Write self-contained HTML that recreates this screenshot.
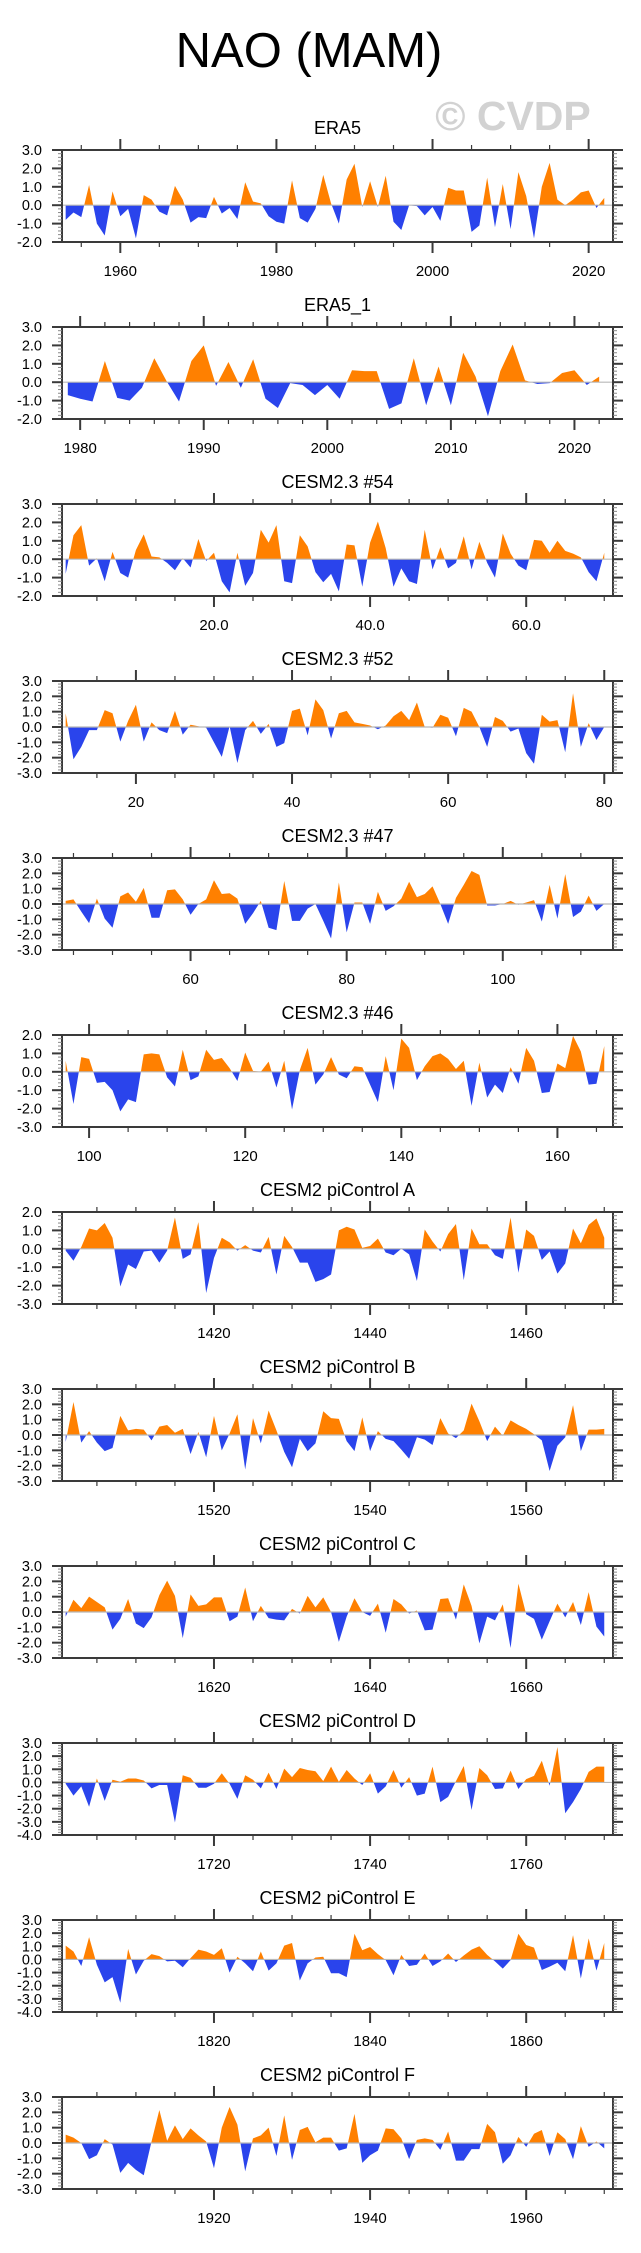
<!DOCTYPE html>
<html><head><meta charset="utf-8"><style>
html,body{margin:0;padding:0;background:#fff}
svg{display:block}
text{font-family:"Liberation Sans",Arial,sans-serif}
</style></head><body>
<svg id="fig" width="641" height="2253" viewBox="0 0 641 2253" xmlns="http://www.w3.org/2000/svg">
<text x="309" y="67" font-size="49" text-anchor="middle" fill="#000">NAO (MAM)</text>
<text x="513" y="130" font-size="41" font-weight="bold" text-anchor="middle" fill="#d2d2d2">© CVDP</text>
<g id="panels"></g>
</svg>
<script>
const titles = ["ERA5","ERA5_1","CESM2.3 #54","CESM2.3 #52","CESM2.3 #47","CESM2.3 #46","CESM2 piControl A","CESM2 piControl B","CESM2 piControl C","CESM2 piControl D","CESM2 piControl E","CESM2 piControl F"];
const startYears = [1953,1979,1,11,44,97,1401,1501,1601,1701,1801,1901];
const yMins = [-2,-2,-2,-3,-3,-3,-3,-3,-3,-4,-4,-3];
const yMaxs = [3,3,3,3,3,2,2,3,3,3,3,3];
const majorSteps = [20,10,20,20,20,20,20,20,20,20,20,20];
const minorSteps = [5,2,5,5,5,5,5,5,5,5,5,5];
const labelDecimals = [0,0,1,0,0,0,0,0,0,0,0,0];

const era5 = [-0.8,-0.4,-0.65,1.1,-1.0,-1.65,0.75,-0.6,-0.2,-1.8,0.55,0.3,-0.35,-0.55,1.05,0.3,-0.95,-0.65,-0.7,0.45,-0.45,-0.15,-0.75,1.25,0.2,0.1,-0.6,-0.9,-1.0,1.35,-0.7,-0.95,-0.2,1.65,0.1,-1.0,1.4,2.25,-0.1,1.3,-0.1,1.6,-0.9,-1.35,0.0,-0.05,-0.55,-0.1,-0.85,0.95,0.8,0.8,-1.45,-1.1,1.5,-1.2,1.15,-1.3,1.8,0.5,-1.8,1.0,2.3,0.3,0.0,0.3,0.7,0.8,-0.15,0.4];
const era5b = [-0.7,-0.9,-1.05,1.15,-0.85,-1.0,-0.3,1.3,0.05,-1.05,1.15,2.0,-0.2,1.1,-0.3,1.25,-0.9,-1.4,-0.05,-0.15,-0.7,-0.15,-0.9,0.65,0.6,0.6,-1.45,-1.15,1.3,-1.25,0.85,-1.25,1.6,0.3,-1.85,0.6,2.05,0.1,-0.1,-0.05,0.5,0.65,-0.15,0.3];
const cesm54 = [-0.8,1.3,1.85,-0.35,0.05,-1.2,0.4,-0.75,-1.0,0.5,1.35,0.15,0.1,-0.2,-0.6,0.05,-0.45,1.1,-0.1,0.35,-1.2,-1.8,0.35,-1.45,-0.75,1.6,0.9,1.85,-1.2,-1.3,1.3,0.7,-0.7,-1.25,-0.8,-1.75,0.8,0.75,-1.5,0.9,2.05,0.6,-1.5,-0.5,-1.2,-1.35,1.6,-0.55,0.65,-0.5,-0.2,1.25,-0.55,0.95,-0.2,-1.0,1.4,0.3,-0.35,-0.6,1.05,1.0,0.35,1.0,0.45,0.3,0.1,-0.7,-1.2,0.35];
const cesm52 = [0.9,-2.1,-1.3,-0.2,-0.2,1.1,0.9,-0.95,0.4,1.45,-0.95,0.3,-0.2,-0.4,1.05,-0.5,0.15,0.05,-0.05,-1.0,-1.95,0.05,-2.35,-0.2,0.4,-0.45,0.2,-1.3,-1.05,1.05,1.2,-0.55,1.8,1.1,-0.75,0.9,1.05,0.3,0.2,0.1,-0.15,0.1,0.7,1.05,0.45,1.6,0.0,-0.05,0.8,0.6,-0.6,1.25,1.0,0.0,-1.3,0.65,0.4,-0.3,-0.1,-1.7,-2.4,0.8,0.35,0.45,-1.65,2.2,-1.3,0.25,-0.85,0.0];
const cesm47 = [0.2,0.3,-0.5,-1.25,0.35,-0.95,-1.55,0.5,0.75,0.15,1.05,-0.9,-0.9,0.9,0.95,0.3,-0.7,0.0,0.3,1.55,0.65,0.7,0.35,-1.3,-0.6,0.2,-1.55,-1.7,1.5,-1.1,-1.1,-0.3,0.0,-1.1,-2.25,1.4,-1.85,0.1,0.1,-1.3,0.8,-0.45,-0.15,0.35,1.45,0.45,0.65,1.15,0.0,-1.3,0.4,1.25,2.15,1.9,-0.1,-0.1,0.0,0.2,-0.05,0.1,0.25,-1.15,1.25,-0.95,1.95,-0.85,-0.5,0.55,-0.45,0.0];
const cesm46 = [0.6,-1.75,0.8,0.7,-0.6,-0.55,-1.0,-2.15,-1.5,-1.65,0.95,1.0,0.95,-0.3,-0.8,1.2,-0.45,-0.25,1.2,0.65,0.75,0.2,-0.5,1.05,0.05,0.0,0.55,-0.85,0.6,-2.05,0.1,1.3,-0.7,-0.15,0.8,-0.15,-0.35,0.3,0.25,-0.7,-1.65,0.85,-1.0,1.8,1.3,-0.45,0.3,0.85,1.0,0.7,0.15,0.6,-1.85,0.5,-1.4,-0.7,-1.15,0.25,-0.65,1.3,0.6,-1.15,-1.1,0.45,0.2,1.95,1.1,-0.7,-0.65,1.4];
const pictlA = [-0.1,-0.65,0.1,1.1,1.0,1.4,0.6,-2.05,-0.85,-1.1,-0.15,-0.1,-0.75,-0.1,1.7,-0.55,-0.3,1.45,-2.4,-0.5,0.6,0.35,-0.1,0.2,-0.1,-0.2,0.65,-1.4,0.7,0.1,-0.75,-0.75,-1.8,-1.65,-1.4,1.0,1.2,1.05,0.05,0.15,0.55,-0.2,-0.35,0.0,-0.3,-1.75,1.05,0.4,-0.15,0.8,1.35,-1.7,1.1,0.25,0.25,-0.35,-0.55,1.7,-1.3,1.05,0.7,-0.6,-0.15,-1.35,-0.8,1.1,0.3,1.3,1.65,0.6];
const pictlB = [-0.45,2.15,-0.5,0.25,-0.5,-1.05,-0.85,1.25,0.3,0.4,0.35,-0.35,0.55,0.65,0.15,0.4,-1.25,0.2,-1.45,1.25,-1.0,0.1,1.35,-2.25,1.1,-0.55,1.6,0.3,-1.1,-2.1,-0.25,-1.05,-0.55,1.55,1.1,1.05,-0.4,-1.05,1.15,-1.05,0.25,-0.25,-0.4,-0.95,-1.55,-0.15,-0.3,-0.65,1.1,0.1,-0.2,0.3,2.05,0.9,-0.4,0.55,-0.05,0.95,0.65,0.4,0.05,-0.35,-2.35,-0.7,-0.15,1.95,-1.05,0.35,0.35,0.4];
const pictlC = [-0.3,0.8,0.25,1.0,0.65,0.3,-1.15,-0.45,0.85,-0.75,-1.05,-0.35,1.1,2.05,1.05,-1.7,1.15,0.4,0.5,0.95,0.95,-0.6,-0.3,1.6,-0.6,0.4,-0.4,-0.5,-0.55,0.2,-0.1,1.05,0.3,0.95,0.0,-1.95,-0.3,0.9,0.0,-0.25,0.55,-1.35,0.85,0.5,-0.1,0.1,-1.2,-1.15,0.85,0.9,-0.5,1.8,0.4,-2.05,-0.3,-0.55,0.5,-2.35,1.85,-0.15,-0.45,-1.8,-0.6,0.55,-0.35,0.65,-0.85,1.3,-0.95,-1.6];
const pictlD = [-0.1,-1.0,-0.3,-1.85,0.3,-1.4,0.2,0.05,0.3,0.3,0.15,-0.45,-0.2,-0.2,-3.05,0.55,0.35,-0.4,-0.4,-0.1,0.7,-0.1,-1.25,0.55,0.2,-0.45,0.75,-0.5,1.05,0.4,1.1,0.95,0.85,0.1,1.2,0.05,0.95,0.3,-0.2,0.7,-0.85,-0.3,0.95,-0.4,0.4,-1.0,-0.85,1.2,-1.5,-1.1,0.1,1.25,-2.1,1.1,0.55,-0.5,-0.45,0.9,-0.5,0.25,0.5,1.65,-0.25,2.7,-2.35,-1.5,-0.5,0.8,1.2,1.2];
const pictlE = [1.05,0.6,-0.5,1.7,-0.4,-1.75,-1.35,-3.3,0.8,-1.15,-0.1,0.4,0.25,-0.15,-0.1,-0.6,0.1,0.75,0.6,0.35,0.85,-1.0,0.2,-0.3,-0.9,0.6,-0.85,-0.3,1.05,1.25,-1.6,-0.3,0.15,0.2,-1.05,-1.05,-1.35,1.95,0.7,0.95,0.4,-0.05,-1.2,0.35,-0.5,-0.4,0.45,-0.5,-0.15,0.45,-0.2,0.3,0.75,1.0,0.35,-0.15,-0.7,-0.05,1.95,1.1,0.9,-0.8,-0.55,-0.25,-0.9,1.85,-1.45,1.6,-0.85,1.25];
const pictlF = [0.55,0.35,0.0,-1.05,-0.8,0.25,-0.1,-1.95,-1.3,-1.75,-2.1,0.1,2.15,0.15,1.15,0.25,0.95,0.5,0.1,-1.65,1.0,2.35,1.2,-1.85,0.3,0.5,1.0,-0.85,1.8,-1.1,0.85,1.05,0.05,0.35,0.35,-0.5,-0.35,1.9,-1.3,-0.8,-0.5,0.95,0.9,0.3,-1.05,0.2,0.3,0.2,-0.45,0.75,-1.15,-1.15,-0.4,-0.4,1.25,0.7,-1.35,-0.8,0.4,-0.25,0.6,0.85,-0.85,0.7,0.25,-1.05,1.1,-0.25,0.1,-0.35];
const seriesList = [era5,era5b,cesm54,cesm52,cesm47,cesm46,pictlA,pictlB,pictlC,pictlD,pictlE,pictlF];

const NS = "http://www.w3.org/2000/svg";
const root = document.getElementById("panels");
const L = 62, R = 613, H = 92, FIRST_TOP = 150, GAP = 177;
function mk(tag, attrs, parent){ const e = document.createElementNS(NS, tag); for (const k in attrs) e.setAttribute(k, attrs[k]); parent.appendChild(e); return e; }

seriesList.forEach((vals, p) => {
  const top = FIRST_TOP + p * GAP, bot = top + H;
  const x0 = startYears[p], x1 = x0 + vals.length - 1;
  const xmin = x0 - 0.47, xmax = x1 + 1.12;
  const ymin = yMins[p], ymax = yMaxs[p];
  const sx = v => L + (v - xmin) / (xmax - xmin) * (R - L);
  const sy = v => bot - (v - ymin) / (ymax - ymin) * H;
  const g = mk("g", {}, root);
  
  

  const t = mk("text", {x: (L + R) / 2, y: top - 16, "font-size": 18, "text-anchor": "middle", fill: "#000"}, g);
  t.textContent = titles[p];
  
  

  // area
  const y0 = sy(0);
  let d = "M" + sx(x0) + "," + y0;
  vals.forEach((v, i) => { d += " L" + sx(x0 + i).toFixed(2) + "," + sy(v).toFixed(2); });
  d += " L" + sx(x1) + "," + y0 + " Z";
  const cidA = "ca" + p, cidB = "cb" + p;
  const defs = mk("defs", {}, g);
  const ca = mk("clipPath", {id: cidA}, defs); mk("rect", {x: L, y: top, width: R - L, height: y0 - top}, ca);
  const cb = mk("clipPath", {id: cidB}, defs); mk("rect", {x: L, y: y0, width: R - L, height: bot - y0}, cb);
  const pa = mk("path", {d: d, fill: "#ff8000", "clip-path": "url(#" + cidA + ")"}, g);
  
  
  const pb = mk("path", {d: d, fill: "#2a44ec", "clip-path": "url(#" + cidB + ")"}, g);
  
  
  const zl = mk("line", {x1: L, x2: R, y1: y0, y2: y0, stroke: "#b8b8b8", "stroke-width": 1.2}, g);
  
  

  // frame
  const fr = mk("rect", {x: L, y: top, width: R - L, height: H, fill: "none", stroke: "#3a3a3a", "stroke-width": 2}, g);
  
  

  // y ticks
  for (let k = Math.round(ymin * 5); k <= Math.round(ymax * 5); k++) {
    const v = k / 5, yy = sy(v), major = (k % 5 === 0);
    const len = major ? 10 : 4;
    mk("line", {x1: L - len, x2: L, y1: yy, y2: yy, stroke: major ? "#3a3a3a" : "#888", "stroke-width": major ? 2 : 1}, g);
    mk("line", {x1: R, x2: R + len, y1: yy, y2: yy, stroke: major ? "#3a3a3a" : "#888", "stroke-width": major ? 2 : 1}, g);
    if (major) {
      const yl = mk("text", {x: 42, y: yy + 5, "font-size": 14.5, "text-anchor": "end", fill: "#000"}, g);
      yl.textContent = v.toFixed(1);
      
      
    }
  }
  // x ticks
  const mn = minorSteps[p], mj = majorSteps[p];
  for (let v = Math.ceil(xmin / mn) * mn; v <= xmax; v += mn) {
    const xx = sx(v), major = (v % mj === 0);
    const len = major ? 11 : 5;
    mk("line", {x1: xx, x2: xx, y1: top - len, y2: top, stroke: "#3a3a3a", "stroke-width": major ? 2 : 1.2}, g);
    mk("line", {x1: xx, x2: xx, y1: bot, y2: bot + len, stroke: "#3a3a3a", "stroke-width": major ? 2 : 1.2}, g);
    if (major) {
      const xl = mk("text", {x: xx, y: bot + 34, "font-size": 15, "text-anchor": "middle", fill: "#000"}, g);
      xl.textContent = v.toFixed(labelDecimals[p]);
      
      
    }
  }
});
</script>
</body></html>
